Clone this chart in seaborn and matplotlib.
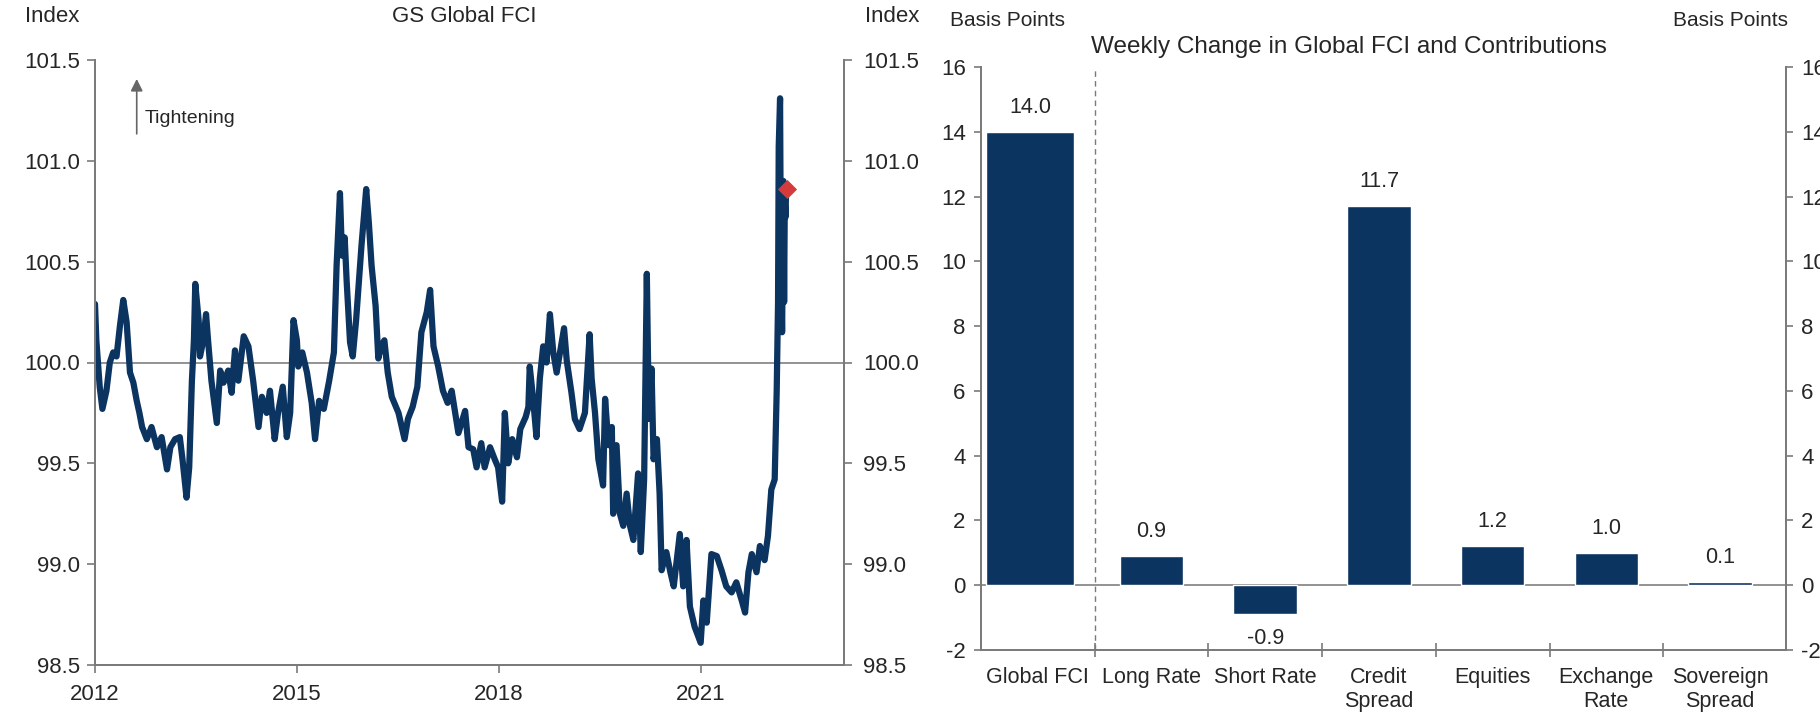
import numpy as np
import pandas as pd
import matplotlib
matplotlib.use('Agg')
import matplotlib.pyplot as plt
import matplotlib.ticker as mticker
import seaborn as sns

sns.set_style('white')
plt.rcParams['font.family'] = ['Liberation Sans', 'DejaVu Sans']
plt.rcParams['axes.unicode_minus'] = False

# GS Global FCI (decimal years)
fci_year = [
    2012.00, 2012.02, 2012.07, 2012.11, 2012.17, 2012.22, 2012.27, 2012.32, 2012.37, 2012.42,
    2012.47, 2012.52, 2012.57, 2012.62, 2012.66, 2012.70, 2012.77, 2012.84, 2012.92, 2012.99,
    2013.07, 2013.12, 2013.19, 2013.26, 2013.30, 2013.36, 2013.40, 2013.44, 2013.47, 2013.49,
    2013.54, 2013.56, 2013.61, 2013.65, 2013.68, 2013.73, 2013.81, 2013.86, 2013.91, 2013.98,
    2014.03, 2014.08, 2014.13, 2014.21, 2014.28, 2014.35, 2014.43, 2014.48, 2014.55, 2014.60,
    2014.67, 2014.72, 2014.79, 2014.85, 2014.90, 2014.95, 2015.00, 2015.02, 2015.08, 2015.15,
    2015.22, 2015.27, 2015.33, 2015.40, 2015.48, 2015.55, 2015.59, 2015.64, 2015.67, 2015.71,
    2015.74, 2015.79, 2015.83, 2015.88, 2015.96, 2016.03, 2016.07, 2016.11, 2016.17, 2016.21,
    2016.25, 2016.30, 2016.35, 2016.41, 2016.51, 2016.60, 2016.65, 2016.72, 2016.79, 2016.85,
    2016.93, 2016.98, 2017.03, 2017.10, 2017.17, 2017.24, 2017.30, 2017.40, 2017.50, 2017.55,
    2017.62, 2017.67, 2017.74, 2017.79, 2017.87, 2017.94, 2017.99, 2018.05, 2018.09, 2018.14,
    2018.20, 2018.27, 2018.32, 2018.40, 2018.44, 2018.46, 2018.51, 2018.56, 2018.61, 2018.66,
    2018.71, 2018.76, 2018.81, 2018.86, 2018.91, 2018.97, 2019.01, 2019.08, 2019.13, 2019.20,
    2019.28, 2019.35, 2019.38, 2019.43, 2019.48, 2019.55, 2019.58, 2019.63, 2019.68, 2019.70,
    2019.75, 2019.80, 2019.85, 2019.90, 2019.95, 2020.00, 2020.07, 2020.11, 2020.16, 2020.20,
    2020.23, 2020.27, 2020.30, 2020.35, 2020.39, 2020.42, 2020.49, 2020.55, 2020.60, 2020.69,
    2020.74, 2020.79, 2020.84, 2020.91, 2021.00, 2021.04, 2021.09, 2021.16, 2021.24, 2021.31,
    2021.38, 2021.46, 2021.53, 2021.61, 2021.66, 2021.71, 2021.76, 2021.83, 2021.88, 2021.95,
    2022.00, 2022.05, 2022.10, 2022.13, 2022.15, 2022.16, 2022.18, 2022.19, 2022.21, 2022.23,
    2022.24, 2022.25, 2022.26, 2022.27,
]
fci_value = [
    100.29, 100.11, 99.88, 99.77, 99.86, 100.00, 100.05, 100.03, 100.18, 100.31,
    100.20, 99.95, 99.90, 99.81, 99.75, 99.68, 99.62, 99.68, 99.58, 99.63,
    99.47, 99.58, 99.62, 99.63, 99.52, 99.33, 99.48, 99.91, 100.11, 100.39,
    100.21, 100.03, 100.11, 100.24, 100.11, 99.91, 99.70, 99.96, 99.90, 99.96,
    99.85, 100.06, 99.91, 100.13, 100.08, 99.91, 99.68, 99.83, 99.75, 99.86,
    99.62, 99.75, 99.88, 99.63, 99.75, 100.21, 100.11, 99.98, 100.05, 99.95,
    99.80, 99.62, 99.81, 99.77, 99.91, 100.05, 100.48, 100.84, 100.53, 100.62,
    100.40, 100.10, 100.03, 100.21, 100.58, 100.86, 100.69, 100.48, 100.28, 100.02,
    100.08, 100.11, 99.95, 99.83, 99.75, 99.62, 99.72, 99.78, 99.88, 100.15,
    100.25, 100.36, 100.08, 99.98, 99.86, 99.80, 99.86, 99.65, 99.76, 99.58,
    99.57, 99.48, 99.60, 99.48, 99.58, 99.52, 99.48, 99.31, 99.75, 99.50,
    99.62, 99.53, 99.67, 99.73, 99.78, 99.98, 99.82, 99.63, 99.92, 100.08,
    100.00, 100.24, 100.05, 99.95, 100.05, 100.17, 100.01, 99.85, 99.72, 99.67,
    99.75, 100.14, 99.92, 99.75, 99.52, 99.39, 99.82, 99.59, 99.68, 99.25,
    99.59, 99.25, 99.19, 99.35, 99.19, 99.12, 99.45, 99.06, 99.42, 100.44,
    99.72, 99.97, 99.52, 99.62, 99.35, 98.97, 99.06, 98.96, 98.89, 99.15,
    98.89, 99.12, 98.79, 98.69, 98.61, 98.82, 98.71, 99.05, 99.04, 98.97,
    98.89, 98.86, 98.91, 98.82, 98.76, 98.96, 99.05, 98.96, 99.09, 99.02,
    99.14, 99.37, 99.42, 99.86, 100.30, 101.07, 101.31, 100.60, 100.15, 100.90,
    100.30, 100.80, 100.72, 100.86,
]
latest_year = [2022.29]
latest_value = [100.86]

year_ticks = [2012, 2015, 2018, 2021]
index_ticks = [98.5, 99.0, 99.5, 100.0, 100.5, 101.0, 101.5]

# Weekly change in Global FCI and contributions (bp)
categories = ['Global FCI', 'Long Rate', 'Short Rate', 'Credit\nSpread',
              'Equities', 'Exchange\nRate', 'Sovereign\nSpread']
contrib = [14.0, 0.9, -0.9, 11.7, 1.2, 1.0, 0.1]
bp_ticks = list(range(-2, 17, 2))

navy = '#0c3461'
red = '#d63b3b'
grey = '#7a7a7a'
txt = '#262626'

fig = plt.figure(figsize=(18.2, 7.15), dpi=100)

# ---------- left panel: FCI line ----------
ax1 = fig.add_axes([95 / 1820, 1 - 665 / 715, 749 / 1820, 605 / 715])
df = pd.DataFrame({'year': fci_year, 'fci': fci_value})
ax1.axhline(100, color='#8a8a8a', lw=1.3, zorder=0)
sns.lineplot(data=df, x='year', y='fci', ax=ax1, color=navy, lw=4.5,
             sort=False, estimator=None)
ax1.scatter(latest_year, latest_value, marker='D', s=95, color=red,
            zorder=5, linewidths=0)
ax1.set_xlim(2012, 2023.13)
ax1.set_ylim(98.5, 101.5)
ax1.set_xticks(year_ticks)
ax1.set_yticks(index_ticks)
ax1.yaxis.set_major_formatter(mticker.FormatStrFormatter('%.1f'))
ax1.set_xlabel('')
ax1.set_ylabel('')
ax1r = ax1.twinx()
ax1r.set_ylim(98.5, 101.5)
ax1r.set_yticks(index_ticks)
ax1r.yaxis.set_major_formatter(mticker.FormatStrFormatter('%.1f'))

for a in (ax1, ax1r):
    a.spines['top'].set_visible(False)
    for s in ('left', 'right', 'bottom'):
        a.spines[s].set_color(grey)
        a.spines[s].set_linewidth(1.3)
    a.tick_params(axis='both', direction='out', length=6, width=1.2,
                  color=grey, labelsize=16, labelcolor=txt)
ax1.tick_params(axis='y', left=True, pad=5)
ax1.tick_params(axis='x', bottom=True, pad=8)
ax1r.tick_params(axis='y', right=True, pad=8)

ax1.annotate('', xy=(2012.62, 101.42), xytext=(2012.62, 101.12),
             arrowprops=dict(arrowstyle='-|>', color='#666666', lw=1.2,
                             mutation_scale=18))
ax1.text(2012.74, 101.21, 'Tightening', fontsize=14, color=txt,
         ha='left', va='center')

fig.text(25 / 1820, 1 - 17 / 715, 'Index', fontsize=16, color=txt,
         ha='left', va='center')
fig.text(464 / 1820, 1 - 17 / 715, 'GS Global FCI', fontsize=16, color=txt,
         ha='center', va='center')
fig.text(865 / 1820, 1 - 17 / 715, 'Index', fontsize=16, color=txt,
         ha='left', va='center')

# ---------- right panel: contributions ----------
ax2 = fig.add_axes([981 / 1820, 1 - 650 / 715, 805 / 1820, 583 / 715])
sns.barplot(x=categories, y=contrib, color=navy, saturation=1, width=0.56,
            ax=ax2, zorder=3)
first = ax2.patches[0]
c = first.get_x() + first.get_width() / 2 - 0.07
first.set_width(0.77)
first.set_x(c - 0.385)
ax2.bar_label(ax2.containers[0], labels=[f'{v:.1f}' for v in contrib],
              padding=10, fontsize=15.5, color=txt)
ax2.axhline(0, color='#8a8a8a', lw=1.3, zorder=1)
ax2.axvline(0.5, color=grey, lw=1.0, ls=(0, (4, 3)), zorder=1)
ax2.set_xlim(-0.5, 6.58)
ax2.set_ylim(-2, 16)
ax2.set_yticks(bp_ticks)
ax2.xaxis.set_minor_locator(mticker.FixedLocator([0.5, 1.5, 2.5, 3.5, 4.5, 5.5]))
ax2r = ax2.twinx()
ax2r.set_ylim(-2, 16)
ax2r.set_yticks(bp_ticks)

for a in (ax2, ax2r):
    a.spines['top'].set_visible(False)
    for s in ('left', 'right', 'bottom'):
        a.spines[s].set_color(grey)
        a.spines[s].set_linewidth(1.3)
    a.tick_params(axis='y', direction='out', length=5, width=1.2,
                  color=grey, labelsize=16, labelcolor=txt, pad=6)
ax2.tick_params(axis='y', left=True)
ax2r.tick_params(axis='y', right=True)
ax2.tick_params(axis='x', which='major', bottom=False, length=0,
                labelsize=15.5, labelcolor=txt, pad=12)
ax2.tick_params(axis='x', which='minor', bottom=True, direction='inout',
                length=10, width=1.2, color=grey)
for lab in ax2.get_xticklabels():
    lab.set_linespacing(1.2)
ax2.set_xlabel('')
ax2.set_ylabel('')

fig.text(950 / 1820, 1 - 21 / 715, 'Basis Points', fontsize=15, color=txt,
         ha='left', va='center')
fig.text(1091 / 1820, 1 - 47 / 715, 'Weekly Change in Global FCI and Contributions',
         fontsize=17.5, color=txt, ha='left', va='center')
fig.text(1788 / 1820, 1 - 21 / 715, 'Basis Points', fontsize=15, color=txt,
         ha='right', va='center')

fig.savefig('out.png', dpi=100)
